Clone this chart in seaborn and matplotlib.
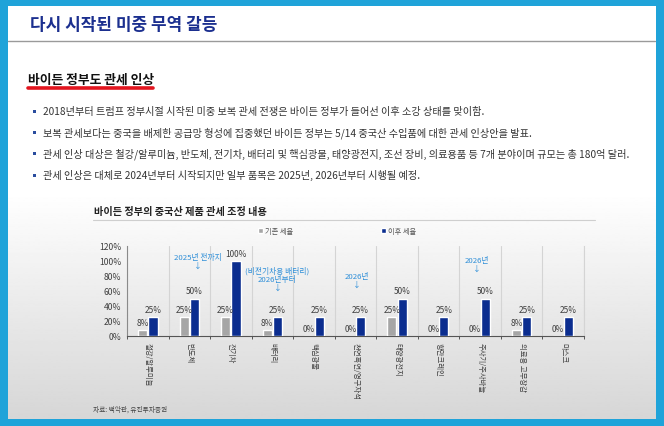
import numpy as np
import pandas as pd
import matplotlib
matplotlib.use("Agg")
import matplotlib.pyplot as plt
from matplotlib.lines import Line2D
from matplotlib.patches import Rectangle
from matplotlib.ticker import FuncFormatter, FixedLocator
import seaborn as sns

# ---------------- data ----------------
categories = ['철강/알루미늄', '반도체', '전기차', '배터리', '핵심광물',
              '천연흑연/영구자석', '태양광전지', '항만크레인', '주사기/주사바늘',
              '의료용 고무장갑', '마스크']
before_rate = [8, 25, 25, 8, 0, 0, 25, 0, 0, 8, 0]
after_rate = [25, 50, 100, 25, 25, 25, 50, 25, 50, 25, 25]
series_names = ['기존 세율', '이후 세율']
yticks = [0, 20, 40, 60, 80, 100, 120]

title = '다시 시작된 미중 무역 갈등'
subtitle = '바이든 정부도 관세 인상'
bullets = [
    '2018년부터 트럼프 정부시절 시작된 미중 보복 관세 전쟁은 바이든 정부가 들어선 이후 소강 상태를 맞이함.',
    '보복 관세보다는 중국을 배제한 공급망 형성에 집중했던 바이든 정부는 5/14 중국산 수입품에 대한 관세 인상안을 발표.',
    '관세 인상 대상은 철강/알루미늄, 반도체, 전기차, 배터리 및 핵심광물, 태양광전지, 조선 장비, 의료용품 등 7개 분야이며 규모는 총 180억 달러.',
    '관세 인상은 대체로 2024년부터 시작되지만 일부 품목은 2025년, 2026년부터 시행될 예정.',
]
chart_title = '바이든 정부의 중국산 제품 관세 조정 내용'
source = '자료: 백악관, 유진투자증권'
# (category index, x offset, lines)
notes = [
    (1, 0.2, ['2025년 전까지', '↓']),
    (3, 0.12, ['(비전기차용 배터리)', '2026년부터', '↓']),
    (5, 0.04, ['2026년', '↓']),
    (8, -0.07, ['2026년', '↓']),
]

df = pd.DataFrame({
    'category': categories * 2,
    'series': [series_names[0]] * len(categories) + [series_names[1]] * len(categories),
    'value': before_rate + after_rate,
})

# ---------------- style ----------------
sns.set_theme(style='white')
plt.rcParams['font.family'] = ['Noto Sans CJK KR', 'DejaVu Sans']

W, H = 664, 427
fig = plt.figure(figsize=(W / 100, H / 100), dpi=100)
fig.patch.set_facecolor('#1fa3d9')


def fx(x):
    return x / W


def fy(y):
    return 1 - y / H


# inner panel with vertical gradient
bg = fig.add_axes([fx(8), fy(420), (656 - 8) / W, (420 - 7) / H])
t = np.linspace(0, 1, 300)
v = np.where(t < 0.45, 1.0, 1.0 - (t - 0.45) / 0.55 * 0.16)
bg.imshow(v[:, None], cmap='gray', vmin=0, vmax=1, aspect='auto',
          extent=[0, 1, 0, 1], interpolation='bilinear')
bg.set_axis_off()

# header
fig.text(fx(30), fy(25), title, fontsize=12.2, fontweight='bold',
         color='#1b2f8f', va='center', ha='left')
fig.add_artist(Line2D([fx(8), fx(655)], [fy(42), fy(42)], color='#9a9a9a',
                      lw=1.0, transform=fig.transFigure))
fig.text(fx(28), fy(80), subtitle, fontsize=9.2, fontweight='bold',
         color='#111111', va='center', ha='left')
fig.add_artist(Line2D([fx(28), fx(153)], [fy(89), fy(89)], color='#e2151f',
                      lw=2.6, solid_capstyle='round', transform=fig.transFigure))

for i, b in enumerate(bullets):
    yy = 112 + i * 21.3
    fig.add_artist(Rectangle((fx(32.5), fy(yy + 1.6)), 3 / W, 3 / H,
                             transform=fig.transFigure, color='#2a4d9e', lw=0))
    fig.text(fx(43), fy(yy), b, fontsize=7.3, color='#333333',
             va='center', ha='left')

# chart title
fig.text(fx(94), fy(212), chart_title, fontsize=7.3, fontweight='bold',
         color='#222222', va='center', ha='left')
fig.add_artist(Line2D([fx(93), fx(595)], [fy(220.5), fy(220.5)], color='#cfcfcf',
                      lw=0.8, transform=fig.transFigure))

# ---------------- chart ----------------
ax = fig.add_axes([fx(127), fy(337), (584 - 127) / W, 90 / H])
ax.set_facecolor('none')
sns.barplot(data=df, x='category', y='value', hue='series', hue_order=series_names,
            palette=['#a6a6a6', '#0b2d8f'], width=0.5, gap=0.12, saturation=1,
            ax=ax, zorder=3)

vals = [before_rate, after_rate]
for cont, vv in zip(ax.containers, vals):
    ax.bar_label(cont, labels=[f'{x}%' for x in vv], padding=2.5, fontsize=6,
                 color='#404040')

ax.set_ylim(0, 120)
ax.set_xlim(-0.5, len(categories) - 0.5)
ax.yaxis.set_major_locator(FixedLocator(yticks))
ax.yaxis.set_major_formatter(FuncFormatter(lambda x, p: f'{x:.0f}%'))
ax.set_xlabel('')
ax.set_ylabel('')
ax.set_xticks(range(len(categories)))
ax.set_xticklabels(categories, rotation=-90, fontsize=5.3, color='#404040')
ax.tick_params(axis='x', which='major', length=0, pad=4)
ax.tick_params(axis='y', length=0, pad=4, labelsize=6.2, labelcolor='#404040')
ax.set_xticks([i + 0.5 for i in range(-1, len(categories))], minor=True)
ax.tick_params(axis='x', which='minor', length=2.5, width=0.7, color='#555555',
               direction='out', bottom=True)
ax.grid(False)
ax.grid(which='minor', axis='x', color='#d4d4d4', lw=0.8, zorder=0)
ax.spines['top'].set_visible(False)
ax.spines['right'].set_color('#d4d4d4')
ax.spines['right'].set_linewidth(0.8)
ax.spines['left'].set_color('#8a8a8a')
ax.spines['left'].set_linewidth(0.8)
ax.spines['bottom'].set_color('#555555')
ax.spines['bottom'].set_linewidth(0.8)

note_top = {1: 258, 3: 271, 5: 277, 8: 261}
for idx, off, lines in notes:
    for j, ln in enumerate(lines):
        py = note_top[idx] + j * 8.8
        ax.text(idx + off, (337 - py) / 90 * 120, ln, fontsize=5.6,
                color='#2f8fd8', ha='center', va='center')

# legend
handles, labels = ax.get_legend_handles_labels()
if ax.get_legend() is not None:
    ax.get_legend().remove()
fig.legend(handles, labels, loc='center', bbox_to_anchor=(fx(337), fy(232)),
           ncol=2, frameon=False, fontsize=5.2, handlelength=0.7, handleheight=0.7,
           handletextpad=0.25, columnspacing=12.2, labelcolor='#555555')

fig.text(fx(93), fy(410), source, fontsize=4.8, color='#444444',
         va='center', ha='left')

fig.savefig('out.png', dpi=100)
